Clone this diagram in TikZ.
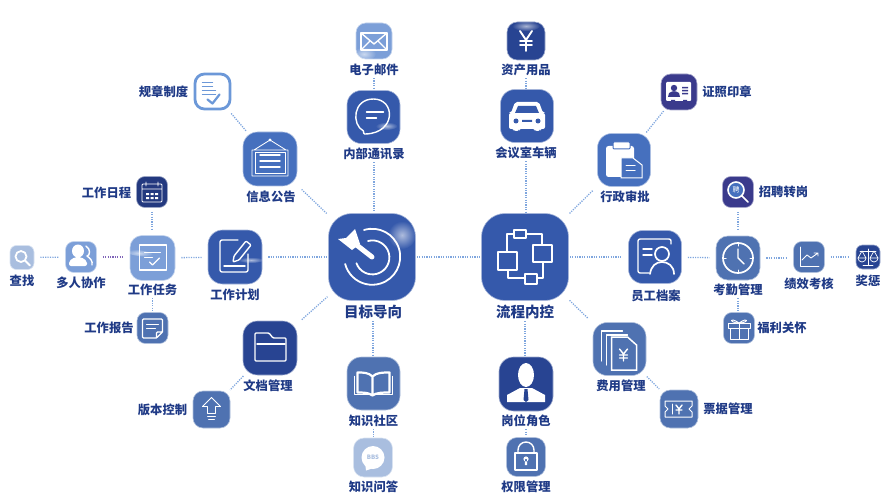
\documentclass[tikz,border=0pt]{standalone}
\usepackage{fontspec}
\setmainfont{Noto Sans CJK SC}
\usepackage{tikz}
\usetikzlibrary{arrows.meta,fadings}
\definecolor{inkblue}{HTML}{1F3A86}
\definecolor{linkblue}{HTML}{7FA6DE}
\definecolor{hubblue}{HTML}{3559AB}
\definecolor{deepblue}{HTML}{284492}
\definecolor{navyblue}{HTML}{23397F}
\definecolor{midblue}{HTML}{4670BE}
\definecolor{steelblue}{HTML}{4F72B1}
\definecolor{lightblue}{HTML}{7C9FD8}
\definecolor{paleblue}{HTML}{A9BEDF}
\definecolor{edgeblue}{HTML}{6C98D8}
\definecolor{violetblue}{HTML}{3A3A8C}
\tikzfading[name=glow, inner color=transparent!40, outer color=transparent!100]
\tikzset{
  icon/.style 2 args={fill=#2, draw=#2!45, line width=0.6pt, inner sep=0pt, minimum size=#1pt, rounded corners=0.27*#1pt},
  lbl/.style={font=\fontsize{12.3}{12.3}\selectfont\bfseries, text=inkblue, inner sep=1pt},
  biglbl/.style={font=\fontsize{14.5}{15}\selectfont\bfseries, text=inkblue, inner sep=1pt},
  link/.style={draw=linkblue, line width=1.3pt, dash pattern=on 1.2pt off 1.2pt, shorten <=6pt, shorten >=6pt},
  hublink/.style={link, shorten <=1pt, shorten >=1pt},
  glyph/.style={draw=white, fill=none, line width=1.4pt, line cap=round, line join=round},
  glare/.style={fill=white, path fading=glow}
}
\begin{document}
\begin{tikzpicture}[x=1pt, y=-1pt]
\useasboundingbox (0,0) rectangle (888,497);

% Hubs
\node[icon={87}{hubblue}] (goal) at (372,257) {};
\node[icon={87}{hubblue}] (flow) at (525,257) {};
\node[biglbl] (goaltxt) at (373,312) {目标导向};
\node[biglbl] (flowtxt) at (525,312) {流程内控};

% Top
\node[icon={36}{lightblue}] (mail) at (374,41) {};
\node[icon={53}{hubblue}] (msg) at (373.5,117) {};
\node[icon={38}{deepblue}] (yuan) at (526,41) {};
\node[icon={53}{hubblue}] (car) at (527,116) {};
\node[lbl] (mailtxt) at (374,70) {电子邮件};
\node[lbl] (msgtxt) at (374,154) {内部通讯录};
\node[lbl] (yuantxt) at (526,70) {资产用品};
\node[lbl] (cartxt) at (526,153) {会议室车辆};

% Left side
\node[icon={35}{white}, draw=edgeblue, line width=2.8pt] (rule) at (212.5,91.5) {};
\node[icon={54}{midblue}] (notice) at (270,159) {};
\node[icon={31}{navyblue}] (cal) at (152,192) {};
\node[icon={45}{lightblue}] (task) at (152.5,258) {};
\node[icon={54}{hubblue}] (plan) at (235,257) {};
\node[icon={31}{lightblue}] (people) at (81,257) {};
\node[icon={24}{paleblue}] (search) at (22,257.5) {};
\node[icon={31}{steelblue}] (report) at (152.5,328) {};
\node[icon={54}{deepblue}] (folder) at (270,348) {};
\node[icon={37}{steelblue}] (version) at (211.5,409.5) {};
\node[lbl] (ruletxt) at (163.5,92) {规章制度};
\node[lbl] (noticetxt) at (271,197) {信息公告};
\node[lbl] (caltxt) at (106.5,193) {工作日程};
\node[lbl] (tasktxt) at (152.5,290) {工作任务};
\node[lbl] (plantxt) at (235,295) {工作计划};
\node[lbl] (peopletxt) at (81,283) {多人协作};
\node[lbl] (searchtxt) at (22,281) {查找};
\node[lbl] (reporttxt) at (109,328) {工作报告};
\node[lbl] (foldertxt) at (268,386) {文档管理};
\node[lbl] (versiontxt) at (162.5,410) {版本控制};

% Bottom
\node[icon={53}{steelblue}] (book) at (373.5,383.5) {};
\node[icon={39}{paleblue}] (bbs) at (373,457.5) {};
\node[icon={54}{deepblue}] (role) at (526,384) {};
\node[icon={39}{steelblue}] (lock) at (526,457) {};
\node[lbl] (booktxt) at (373.5,421) {知识社区};
\node[lbl] (bbstxt) at (373.5,487) {知识问答};
\node[lbl] (roletxt) at (526,421) {岗位角色};
\node[lbl] (locktxt) at (526,487) {权限管理};

% Right side
\node[icon={36}{violetblue}] (cert) at (679,92) {};
\node[icon={53}{midblue}] (clip) at (624,160) {};
\node[icon={31}{violetblue}] (hire) at (738,192) {};
\node[icon={53}{hubblue}] (staff) at (655,257) {};
\node[icon={44}{steelblue}] (clock) at (738,258) {};
\node[icon={31}{steelblue}] (chart) at (809,257) {};
\node[icon={24}{deepblue}] (balance) at (868,257) {};
\node[icon={31}{steelblue}] (gift) at (739,328) {};
\node[icon={53}{steelblue}] (fee) at (619.5,349) {};
\node[icon={38}{steelblue}] (ticket) at (679,409) {};
\node[lbl] (certtxt) at (727,92) {证照印章};
\node[lbl] (cliptxt) at (625,197) {行政审批};
\node[lbl] (hiretxt) at (783.5,192) {招聘转岗};
\node[lbl] (stafftxt) at (656,296) {员工档案};
\node[lbl] (clocktxt) at (738,290) {考勤管理};
\node[lbl] (charttxt) at (809,284) {绩效考核};
\node[lbl] (balancetxt) at (868,281) {奖惩};
\node[lbl] (gifttxt) at (782,328) {福利关怀};
\node[lbl] (feetxt) at (621,386) {费用管理};
\node[lbl] (tickettxt) at (728,409) {票据管理};

% Connectors
\draw[hublink] (goal) -- (flow);
\draw[hublink] (msgtxt) -- (msgtxt |- goal.north);
\draw[hublink] (goaltxt) -- (goaltxt |- book.north);
\draw[hublink] (cartxt) -- (cartxt |- flow.north);
\draw[hublink] (flowtxt) -- (flowtxt |- role.north);
\draw[link, shorten >=1pt] (plan) -- (goal);
\draw[link, shorten >=1pt] (notice) -- (goal);
\draw[link, shorten >=1pt] (folder) -- (goal);
\draw[link, shorten <=1pt] (flow) -- (clip);
\draw[link, shorten <=1pt] (flow) -- (fee);
\draw[link, shorten <=1pt, shorten >=7pt] (flow) -- (staff);
\draw[hublink] (mailtxt) -- (mailtxt |- msg.north);
\draw[hublink] (yuantxt) -- (yuantxt |- car.north);
\draw[hublink] (booktxt) -- (booktxt |- bbs.north);
\draw[hublink] (roletxt) -- (roletxt |- lock.north);
\draw[link, shorten <=4pt, shorten >=1pt] (rule) -- (notice);
\draw[link, shorten <=1pt, shorten >=1pt] (folder) -- (version);
\draw[link, shorten <=1pt, shorten >=1pt] (clip) -- (cert);
\draw[link, shorten <=1pt, shorten >=1pt] (fee) -- (ticket);
\draw[link, shorten <=4pt, shorten >=5pt] (cal) -- (cal |- task.north);
\draw[link] (task) -- (plan);
\draw[link, draw=linkblue!60!violet] (people) -- (people -| task.west);
\draw[link] (search) -- (people);
\draw[hublink] (tasktxt) -- (tasktxt |- report.north);
\draw[link] (staff) -- (clock);
\draw[link] (clock) -- (clock -| chart.west);
\draw[link] (chart) -- (balance);
\draw[link, shorten <=4pt, shorten >=5pt] (hire) -- (hire |- clock.north);
\draw[hublink] (clocktxt) -- (clocktxt |- gift.north);

% Target
\begin{scope}[shift={(goal.center)}]
\fill[glare] (30,-22) ellipse (14 and 14);
\draw[glyph, line width=1.8pt] (-8,-27) arc[start angle=-107, end angle=165, radius=28];
\draw[glyph, line width=1.8pt] (-4,-16) arc[start angle=-105, end angle=160, radius=17];
\draw[glyph, line width=5pt] (0,0) -- (-18,-14);
\fill[white] (-17,-28) -- (-12,-13) -- (-20,-7) -- (-34,-18) -- (-26,-19) -- cycle;
\end{scope}

% Flow chart
\begin{scope}[shift={(flow.center)}]
\draw[glyph, line width=1.7pt] (-11,-27) rectangle (1,-19);
\draw[glyph, line width=1.7pt] (8,-12) rectangle (27,5);
\draw[glyph, line width=1.7pt] (-27,-5) rectangle (-8,13);
\draw[glyph, line width=1.7pt] (0,17) rectangle (12,27);
\draw[glyph, line width=1.7pt] (-11,-23) -- (-18,-23) -- (-18,-5);
\draw[glyph, line width=1.7pt] (1,-23) -- (17,-23) -- (17,-12);
\draw[glyph, line width=1.7pt] (-17,13) -- (-17,21) -- (0,21);
\draw[glyph, line width=1.7pt] (12,21) -- (18,21) -- (18,5);
\end{scope}

% Envelope
\begin{scope}[shift={(mail.center)}]
\fill[glare] (-10,13) ellipse (12 and 7);
\draw[glyph] (-13,-8) rectangle (13,9);
\draw[glyph] (-13,-8) -- (0,3) -- (13,-8);
\draw[glyph] (-13,9) -- (-4,0) (13,9) -- (4,0);
\end{scope}

% Chat bubble
\begin{scope}[shift={(msg.center)}]
\fill[glare] (13,9) ellipse (11 and 4);
\draw[glyph] (-10,14) .. controls (-22,8) and (-21,-18) .. (0,-18) .. controls (22,-18) and (23,16) .. (-8,17) -- (-9,17) .. controls (-10,17) and (-10,15) .. (-10,14);
\draw[glyph] (-7,-5) -- (10,-5) (-7,1) -- (3,1);
\end{scope}

% Yuan
\begin{scope}[shift={(yuan.center)}]
\fill[glare] (0,-15) ellipse (14 and 5);
\draw[glyph, line width=1.9pt] (-6,-10) -- (0,-1) -- (6,-10) (0,-1) -- (0,10) (-6,0) -- (6,0) (-6,4) -- (6,4);
\end{scope}

% Car
\begin{scope}[shift={(car.center)}]
\fill[white, rounded corners=2pt] (-12,-14) -- (12,-14) -- (16,-3) -- (18,-3) -- (18,13) -- (13,13) -- (13,15) -- (8,15) -- (8,13) -- (-8,13) -- (-8,15) -- (-13,15) -- (-13,13) -- (-18,13) -- (-18,-3) -- (-16,-3) -- cycle;
\fill[hubblue] (-9,-10) -- (9,-10) -- (12,-3) -- (-12,-3) -- cycle;
\fill[hubblue] (-11,5) circle (2.5) (11,5) circle (2.5) (-5,4) rectangle (5,6);
\end{scope}

% Notice board
\begin{scope}[shift={(notice.center)}]
\draw[glyph, line width=0.8pt] (-18,-9) rectangle (18,17) (-16,-9) -- (0,-19) -- (16,-9);
\fill[white] (0,-19) circle (1.6);
\draw[glyph, line width=0.8pt] (-15,-7) rectangle (15,14);
\draw[glyph] (-10,-4) -- (10,-4) (-10,2) -- (10,2) (-10,8) -- (10,8);
\end{scope}

% Rules sheet
\begin{scope}[shift={(rule.center)}]
\draw[glyph, draw=edgeblue, line width=1.2pt] (-10,-9) -- (0,-9) (-10,-5) -- (0,-5) (-10,-1) -- (3,-1) (-10,3) -- (3,3);
\draw[glyph, draw=edgeblue, line width=2.2pt] (-5,8) -- (0,12) -- (7,3);
\end{scope}

% Calendar
\begin{scope}[shift={(cal.center)}]
\draw[glyph, line width=0.9pt, rounded corners=1pt] (-10,-8) rectangle (10,10) (-10,-3) -- (10,-3) (-6,-10) -- (-6,-6) (6,-10) -- (6,-6);
\fill[white] (-6,1) rectangle (-3,3) (-1.5,1) rectangle (1.5,3) (3,1) rectangle (6,3) (-6,5) rectangle (-3,7) (-1.5,5) rectangle (1.5,7) (3,5) rectangle (6,7);
\end{scope}

% Task sheet
\begin{scope}[shift={(task.center)}]
\fill[glare, rotate=-8] (-14,-3) ellipse (14 and 3);
\draw[glyph, line width=1.7pt] (-13,-13) rectangle (14,12);
\draw[glyph, line width=1pt] (-8,-6) -- (8,-6) (-8,-1) -- (0,-1);
\draw[glyph] (-3,4) -- (0,7) -- (7,0);
\end{scope}

% Pencil and pad
\begin{scope}[shift={(plan.center)}]
\fill[glare] (16,3) ellipse (13 and 3);
\draw[glyph, rounded corners=2pt] (3,-17) -- (-15,-17) -- (-15,15) -- (13,15) -- (13,-3);
\draw[glyph] (-11,9) -- (10,9);
\draw[glyph, rounded corners=1pt] (-1,-1) -- (11,-16) -- (16,-12) -- (4,3) -- (-2,5) -- cycle;
\end{scope}

% Two persons
\begin{scope}[shift={(people.center)}]
\fill[white] (-3,-6) ellipse (6 and 6.5);
\fill[white, rounded corners=2pt] (-12,9) -- (-12,4) -- (-6,0) -- (0,0) -- (6,4) -- (6,9) -- cycle;
\draw[glyph] (5,-11) .. controls (10,-8) and (9,-1) .. (6,-1) .. controls (9,1) and (12,4) .. (11,8);
\end{scope}

% Magnifier
\begin{scope}[shift={(search.center)}]
\draw[glyph, line width=1.8pt] (-1,-1) circle (5.5) (3,3) -- (8,8);
\end{scope}

% Note page
\begin{scope}[shift={(report.center)}]
\draw[glyph, rounded corners=1pt] (4,10) -- (-10,10) -- (-10,-9) -- (10,-9) -- (10,4) -- (4,10) -- (4,4) -- (10,4);
\draw[glyph, line width=1pt] (-6,-4) -- (6,-4) (-6,0) -- (3,0);
\end{scope}

% Folder
\begin{scope}[shift={(folder.center)}]
\draw[glyph, rounded corners=1pt] (-15,13) -- (-15,-15) -- (-1,-15) -- (3,-10) -- (16,-10) -- (16,13) -- cycle;
\draw[glyph] (-13,-4) -- (15,-4);
\end{scope}

% Upload arrow
\begin{scope}[shift={(version.center)}]
\draw[glyph, line width=0.9pt] (0,-12) -- (-9,-3) -- (-4,-3) -- (-4,4) -- (4,4) -- (4,-3) -- (9,-3) -- cycle;
\draw[glyph, line width=0.9pt] (-4,7) -- (4,7) (-3,10) -- (3,10);
\end{scope}

% Book
\begin{scope}[shift={(book.center)}]
\draw[glyph, line width=2.2pt] (-1,-7) .. controls (-5,-11) and (-10,-11) .. (-16,-11) -- (-16,9) .. controls (-10,9) and (-5,9) .. (-1,12) .. controls (3,9) and (9,9) .. (16,9) -- (16,-11) .. controls (9,-11) and (3,-11) .. (-1,-7) -- (-1,12);
\draw[glyph, line width=1.2pt] (-19,-7) -- (-19,11) -- (19,11) -- (19,-7);
\end{scope}

% Forum bubble
\begin{scope}[shift={(bbs.center)}]
\fill[white] (0,0) circle (11.5);
\fill[white] (-8,5) -- (-7,13) -- (2,10) -- cycle;
\node[font=\fontsize{6}{6}\selectfont\bfseries, text=paleblue, inner sep=0pt] (bbsmark) at (0,0) {BBS};
\end{scope}

% Bust
\begin{scope}[shift={(role.center)}]
\fill[white] (0,-9) ellipse (8 and 12);
\fill[white] (-19,18) -- (-19,11) -- (-6,4) -- (6,4) -- (19,11) -- (19,18) -- cycle;
\fill[deepblue] (-1.5,5) -- (1.5,5) -- (2.5,16) -- (0,18) -- (-2.5,16) -- cycle;
\end{scope}

% Padlock
\begin{scope}[shift={(lock.center)}]
\draw[glyph] (-11,-4) rectangle (11,13);
\draw[glyph] (-8,-4) -- (-8,-7) arc[start angle=180, end angle=360, radius=8] -- (8,-4);
\fill[white] (0,2) circle (2.6) (-1.2,2) rectangle (1.2,8);
\end{scope}

% Card
\begin{scope}[shift={(cert.center)}]
\fill[white, rounded corners=1pt] (-13,-10) rectangle (12,9);
\fill[violetblue] (-5,-4) circle (3.2) (-11,5) -- (-10,1) -- (-7,-0.5) -- (-3,-0.5) -- (0,1) -- (1,5) -- cycle;
\fill[violetblue] (3,-5) rectangle (9,-3.5) (3,-2) rectangle (9,-0.5) (3,1) rectangle (9,2.5);
\fill[violetblue] (-8,8) rectangle (-4,10) (4,8) rectangle (8,10);
\end{scope}

% Clipboard
\begin{scope}[shift={(clip.center)}]
\fill[white, rounded corners=2.5pt] (-18,-14) rectangle (10,17);
\fill[white, draw=midblue, line width=1pt, rounded corners=1pt] (-11,-18) rectangle (6,-11);
\fill[midblue, draw=white, line width=1pt] (-3,-2) -- (9,-2) -- (18,5) -- (18,18) -- (-3,18) -- cycle;
\draw[glyph, line width=1pt] (2,6) -- (11,6) (2,11) -- (11,11);
\end{scope}

% Recruiting lens
\begin{scope}[shift={(hire.center)}]
\fill[midblue] (-2,-2) circle (8);
\draw[glyph, line width=1.6pt] (-2,-2) circle (8) (4,4) -- (10,10);
\node[font=\fontsize{7}{7}\selectfont, text=white, inner sep=0pt] (hiremark) at (-2,-2) {聘};
\end{scope}

% Profile card
\begin{scope}[shift={(staff.center)}]
\draw[glyph, rounded corners=2pt] (16,-13) -- (16,-18) -- (-17,-18) -- (-17,16) -- (-6,16);
\draw[glyph] (-12,-8) -- (-3,-8) (-12,-2) -- (-3,-2);
\draw[glyph, line width=1.7pt] (7,-3) circle (7);
\draw[glyph, line width=1.7pt] (-5,17) .. controls (-4,9) and (1,5) .. (7,5) .. controls (13,5) and (19,9) .. (19,17);
\end{scope}

% Clock
\begin{scope}[shift={(clock.center)}]
\draw[glyph, line width=1.7pt] (0,0) circle (15);
\draw[glyph] (0,-9) -- (0,0) -- (6,6);
\draw[glyph, line width=1pt] (0,-15) -- (0,-12) (0,15) -- (0,12) (-15,0) -- (-12,0) (15,0) -- (12,0);
\end{scope}

% Line chart
\begin{scope}[shift={(chart.center)}]
\draw[glyph, line width=0.9pt] (-9,-10) -- (-9,9) -- (10,9);
\draw[glyph, line width=0.9pt] (-7,3) -- (-2,-2) -- (2,1) -- (9,-4) (5,-4) -- (9,-4) -- (9,-1);
\end{scope}

% Scales
\begin{scope}[shift={(balance.center)}]
\draw[glyph, line width=0.7pt] (0,-8) -- (0,8) (-5,8) -- (5,8) (-8,-6) -- (8,-6);
\draw[glyph, line width=0.7pt] (-10,1) -- (-6,-6) -- (-2,1) -- (-10,1) (2,1) -- (6,-6) -- (10,1) -- (2,1);
\draw[glyph, line width=0.7pt] (-10,1) arc[start angle=180, end angle=0, radius=4] (2,1) arc[start angle=180, end angle=0, radius=4];
\end{scope}

% Gift
\begin{scope}[shift={(gift.center)}]
\draw[glyph, line width=0.9pt] (-11,-5) rectangle (11,0) (-9,0) rectangle (9,11) (0,-5) -- (0,11);
\draw[glyph, line width=0.9pt] (0,-5) .. controls (-10,-12) and (-10,-5) .. (0,-5) .. controls (10,-12) and (10,-5) .. (0,-5);
\end{scope}

% Invoices
\begin{scope}[shift={(fee.center)}]
\draw[glyph, line width=1.2pt] (-18,12) -- (-18,-18) -- (3,-18);
\draw[glyph, line width=1.2pt] (-13,16) -- (-13,-14) -- (8,-14);
\fill[steelblue, draw=white, line width=1.5pt] (-8,-12) -- (8,-12) -- (17,-4) -- (17,21) -- (-8,21) -- cycle;
\draw[glyph] (0,0) -- (4,5) -- (8,0) (4,5) -- (4,12) (0,6) -- (8,6) (0,9) -- (8,9);
\end{scope}

% Voucher
\begin{scope}[shift={(ticket.center)}]
\draw[glyph, line width=1pt] (-14,-8) -- (13,-8) -- (13,-3) -- (10,0) -- (13,3) -- (13,8) -- (-14,8) -- (-14,3) -- (-11,0) -- (-14,-3) -- cycle;
\draw[glyph, line width=1pt] (-7,-5) -- (-7,5);
\draw[glyph] (-3,-4) -- (0,0) -- (3,-4) (0,0) -- (0,5) (-3,1) -- (3,1);
\end{scope}

\end{tikzpicture}
\end{document}
